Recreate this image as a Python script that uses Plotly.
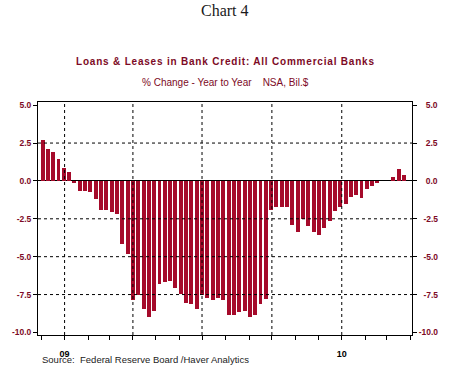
import pandas as pd
import plotly.graph_objects as go

# Weekly % change, year to year (Wednesdays, Dec 3 2008 - Mar 24 2010)
week_start = "2008-12-03"
n_weeks = 69
pct_change = [2.72, 2.09, 1.88, 1.44, 0.86, 0.60, -0.15, -0.67, -0.67, -0.75,
              -1.18, -1.95, -1.95, -2.08, -2.18, -4.18, -4.82, -7.84, -7.50, -8.43,
              -9.00, -8.61, -6.80, -6.68, -6.63, -7.08, -7.46, -8.05, -8.10, -8.48,
              -7.50, -7.70, -7.84, -7.70, -7.84, -8.87, -8.87, -8.68, -8.61, -9.00,
              -8.87, -8.10, -7.78, -1.95, -1.75, -1.75, -1.69, -2.90, -3.36, -2.52,
              -2.97, -3.36, -3.55, -3.10, -2.65, -2.00, -1.70, -1.50, -1.04, -0.92,
              -1.12, -0.54, -0.35, -0.15, None, None, 0.28, 0.79, 0.41]
dates = pd.date_range(week_start, periods=n_weeks, freq="7D")

y_ticks = [5.0, 2.5, 0.0, -2.5, -5.0, -7.5, -10.0]
y_ticklabels = ["5.0", "2.5", "0.0", "-2.5", "-5.0", "-7.5", "-10.0"]
y_grid = [2.5, -2.5, -5.0, -7.5]
x_grid = ["2009-01-01", "2009-04-01", "2009-07-01", "2009-10-01", "2010-01-01"]
x_ticks = ["2009-01-01", "2010-01-01"]
x_ticklabels = ["09", "10"]

BAR = "#A50A2A"
MAROON = "#7D0A26"
DAY = 86400000

fig = go.Figure()
fig.add_trace(go.Bar(x=dates, y=pct_change, marker=dict(color=BAR, line=dict(width=0)),
                     width=5.2 * DAY, showlegend=False, hoverinfo="skip"))
fig.add_trace(go.Scatter(x=[dates[0]], y=[0], yaxis="y2", mode="lines",
                         line=dict(width=0), showlegend=False, hoverinfo="skip"))

# right-aligned labels on the right axis
pad = {"5.0": "\u2007\u2008", "2.5": "\u2007\u2008", "0.0": "\u2007\u2008",
       "-2.5": "\u2007", "-5.0": "\u2007", "-7.5": "\u2007", "-10.0": ""}
right_labels = [pad[t] + t for t in y_ticklabels]

tickfont = dict(family="Arial, Liberation Sans, sans-serif", size=8.5, color=MAROON, weight="bold")
yr = [-10.17, 5.21]

fig.update_layout(
    width=458, height=371,
    margin=dict(l=37, r=46, t=102, b=29),
    paper_bgcolor="white", plot_bgcolor="white",
    bargap=0,
    xaxis=dict(type="date", range=["2008-11-27", "2010-04-03 12:00"],
               tickvals=x_ticks, ticktext=x_ticklabels,
               ticks="outside", ticklen=4, tickcolor="black", tickwidth=1,
               minor=dict(dtick="M1", tick0="2009-01-01", ticks="outside", ticklen=4,
                          tickcolor="black", showgrid=False),
               showgrid=False, showline=True, linecolor="black", linewidth=1, mirror=True,
               tickfont=dict(family="Arial, Liberation Sans, sans-serif", size=9, color="black", weight="bold"),
               ticklabelstandoff=6, zeroline=False),
    yaxis=dict(range=yr, tickvals=y_ticks, ticktext=y_ticklabels,
               ticks="outside", ticklen=4, tickcolor="black",
               showgrid=False, showline=True, linecolor="black", linewidth=1,
               zeroline=True, zerolinecolor="black", zerolinewidth=1,
               tickfont=tickfont),
    yaxis2=dict(range=yr, overlaying="y", side="right", tickvals=y_ticks, ticktext=right_labels,
                ticks="outside", ticklen=4, tickcolor="black",
                showgrid=False, showline=True, linecolor="black", linewidth=1,
                zeroline=False, tickfont=tickfont),
)

shapes = []
for v in y_grid:
    shapes.append(dict(type="line", xref="paper", x0=0, x1=1, yref="y", y0=v, y1=v,
                       line=dict(color="black", width=1, dash="3px,3px"), layer="above"))
for d in x_grid:
    shapes.append(dict(type="line", xref="x", x0=d, x1=d, yref="paper", y0=0, y1=1,
                       line=dict(color="black", width=1, dash="3px,3px"), layer="above"))
fig.update_layout(shapes=shapes)

fig.add_annotation(text="Chart 4", xref="paper", yref="paper", x=0.5, y=1.394,
                   showarrow=False, xanchor="center", yanchor="middle",
                   font=dict(family="Liberation Serif, Times New Roman, serif", size=16, color="#1a1a1a"))
fig.add_annotation(text='<span style="letter-spacing:0.8px">Loans &amp; Leases in Bank Credit: All Commercial Banks</span>',
                   xref="paper", yref="paper", x=0.5, y=1.175,
                   showarrow=False, xanchor="center", yanchor="middle",
                   font=dict(family="Arial, Liberation Sans, sans-serif", size=10, color=MAROON, weight="bold"))
fig.add_annotation(text="% Change - Year to Year\u00a0\u00a0\u00a0\u00a0NSA, Bil.$",
                   xref="paper", yref="paper", x=0.5, y=1.083,
                   showarrow=False, xanchor="center", yanchor="middle",
                   font=dict(family="Arial, Liberation Sans, sans-serif", size=10, color=MAROON))
fig.add_annotation(text="Source:\u00a0 Federal Reserve Board /Haver Analytics",
                   xref="paper", yref="paper", x=0.005, y=-0.105,
                   showarrow=False, xanchor="left", yanchor="middle",
                   font=dict(family="Arial, Liberation Sans, sans-serif", size=9.5, color="#222222"))

fig.write_html("out.html", config={"displayModeBar": False},
               post_script="document.body.style.margin='0';document.body.style.overflow='hidden';")
